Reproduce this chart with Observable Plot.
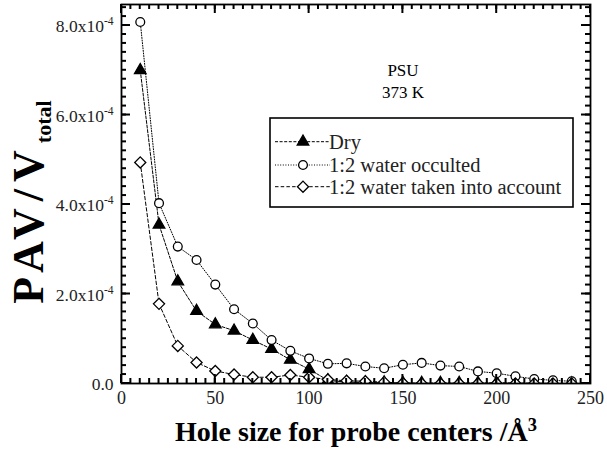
<!DOCTYPE html>
<html>
<head>
<meta charset="utf-8">
<script src="https://cdn.jsdelivr.net/npm/d3@7"></script>
<script src="https://cdn.jsdelivr.net/npm/@observablehq/plot@0.6"></script>
<style>
  html, body { margin: 0; padding: 0; background: #fff; }
  #chart { position: relative; width: 607px; height: 461px; }
  svg text { font-family: "Liberation Serif", "DejaVu Serif", serif; }
</style>
</head>
<body>
<div id="chart"></div>
<script>
// Pore accessible volume fraction versus hole size (PSU, 373 K)
const holeSize = [10, 20, 30, 40, 50, 60, 70, 80, 90, 100, 110, 120,
                  130, 140, 150, 160, 170, 180, 190, 200, 210, 220, 230, 240];

// values in units of 1e-4
const dry = [7.00, 3.55, 2.28, 1.62, 1.32, 1.18, 0.97, 0.77, 0.53, 0.32, 0.07, 0.03,
             0.02, 0.02, 0.01, 0.01, 0.01, 0.01, 0.01, 0.02, 0.01, 0.01, 0.00, 0.00];
const occulted = [8.08, 4.03, 3.06, 2.76, 2.21, 1.66, 1.34, 0.97, 0.73, 0.56, 0.44, 0.45,
                  0.38, 0.34, 0.42, 0.46, 0.40, 0.38, 0.27, 0.23, 0.16, 0.10, 0.07, 0.05];
const accounted = [4.94, 1.78, 0.84, 0.47, 0.28, 0.20, 0.14, 0.14, 0.19, 0.14, 0.09, 0.06,
                   0.05, 0.03, 0.01, 0.00, 0.00, 0.00, 0.00, 0.00, 0.00, 0.00, 0.00, 0.00];

const seriesNames = ["Dry", "1:2 water occulted", "1:2 water taken into account"];
const xTickValues = [0, 50, 100, 150, 200, 250];
const yTickValues = [0, 2e-4, 4e-4, 6e-4, 8e-4];
const yTickLabels = ["0.0", "2.0x10^{-4}", "4.0x10^{-4}", "6.0x10^{-4}", "8.0x10^{-4}"];
const xMinorTicks = d3.range(0, 251, 5);
const yMinorTicks = d3.range(0, 8.41e-4, 0.2e-4);

const xTitle = "Hole size for probe centers /Å^{3}";
const yTitle = "PAV/V_{total}";
const annotation = "PSU\n373 K";

const series = [
  {name: seriesNames[0], values: dry, symbol: "triangle", fill: "black", r: 4.3, dash: "3,1.6"},
  {name: seriesNames[1], values: occulted, symbol: "circle", fill: "white", r: 4.4, dash: "1,1.6"},
  {name: seriesNames[2], values: accounted, symbol: "diamond2", fill: "white", r: 5.0, dash: "3.5,2.2"}
];

const rows = series.flatMap(s => holeSize.map((h, i) => ({h, v: s.values[i] * 1e-4, s: s.name})));

const W = 607, H = 461;
const mL = 121, mR = 17, mT = 4, mB = 78;
const xMax = 250, yMax = 8.47e-4;
const font = "Liberation Serif";

const marks = [];
// data lines
for (const s of series) {
  marks.push(Plot.line(rows.filter(d => d.s === s.name), {
    x: "h", y: "v", stroke: "black", strokeWidth: 1, strokeDasharray: s.dash
  }));
}
// markers
for (const s of series) {
  marks.push(Plot.dot(rows.filter(d => d.s === s.name), {
    x: "h", y: "v", symbol: s.symbol, r: s.r, fill: s.fill,
    stroke: "black", strokeWidth: 1.3, clip: "frame"
  }));
}
marks.push(Plot.frame({stroke: "black", strokeWidth: 1.8}));
// tick labels
marks.push(
  Plot.text(xTickValues, {x: d => d, text: d => String(d), frameAnchor: "bottom",
    dy: 20, fontSize: 18, fontFamily: font, fill: "#222"}),
  Plot.text(yTickValues, {y: d => d, text: (d, i) => yTickLabels[i], frameAnchor: "left",
    textAnchor: "end", dx: -8, dy: 1, fontSize: 17.5, fontFamily: font, fill: "#222"})
);
// axis titles and annotation
marks.push(
  Plot.text([xTitle], {text: d => d, frameAnchor: "bottom", dy: 57, fontSize: 28,
    fontWeight: "bold", fontFamily: font}),
  Plot.text([yTitle], {text: d => d, frameAnchor: "left", textAnchor: "middle", rotate: -90,
    dx: -93, dy: 8, fontSize: 44, fontWeight: "bold", fontFamily: font}),
  Plot.text([annotation], {text: d => d, frameAnchor: "top", dx: 47, dy: 56, lineHeight: 1.3,
    fontSize: 17, fontFamily: font})
);

const plot = Plot.plot({
  width: W, height: H,
  marginLeft: mL, marginRight: mR, marginTop: mT, marginBottom: mB,
  x: {domain: [0, xMax], axis: null},
  y: {domain: [0, yMax], axis: null},
  style: {background: "white", overflow: "visible"},
  marks
});

const svg = d3.select(plot);

// inward ticks on all four sides, placed with the plot's own scales
const sx = plot.scale("x"), sy = plot.scale("y");
const [x0, x1] = sx.range, [y0, y1] = sy.range;   // y0 = bottom, y1 = top
const minorLen = 5, majorLen = 9;
const tg = svg.append("g").attr("stroke", "black").attr("stroke-width", 2);
for (const [ticks, len] of [[xMinorTicks, minorLen], [xTickValues, majorLen]]) {
  for (const v of ticks) {
    const px = sx.apply(v);
    tg.append("line").attr("x1", px).attr("x2", px).attr("y1", y0).attr("y2", y0 - len);
    tg.append("line").attr("x1", px).attr("x2", px).attr("y1", y1).attr("y2", y1 + len);
  }
}
for (const [ticks, len] of [[yMinorTicks, minorLen], [yTickValues, majorLen]]) {
  for (const v of ticks) {
    const py = sy.apply(v);
    tg.append("line").attr("y1", py).attr("y2", py).attr("x1", x0).attr("x2", x0 + len);
    tg.append("line").attr("y1", py).attr("y2", py).attr("x1", x1).attr("x2", x1 - len);
  }
}

// turn ^{..} and _{..} markup into super/subscript tspans
svg.selectAll("text").each(function () {
  const el = d3.select(this);
  const txt = this.textContent;
  if (!/[\^_]\{/.test(txt) || this.querySelector("tspan")) return;
  const spaced = txt === yTitle;
  el.text(null);
  if (spaced) el.attr("letter-spacing", 7);
  const re = /([\^_])\{([^}]*)\}/g;
  let last = 0, m;
  while ((m = re.exec(txt))) {
    if (m.index > last) el.append("tspan").text(txt.slice(last, m.index));
    const sup = m[1] === "^";
    el.append("tspan")
      .attr("font-size", sup ? "0.66em" : "0.5em")
      .attr("baseline-shift", sup ? "55%" : "-35%")
      .attr("letter-spacing", 0)
      .text(m[2]);
    last = re.lastIndex;
  }
  if (last < txt.length) el.append("tspan").text(txt.slice(last));
});

// legend box
const lg = svg.append("g").attr("transform", "translate(270,118)");
lg.append("rect").attr("width", 303).attr("height", 89)
  .attr("fill", "white").attr("stroke", "black").attr("stroke-width", 1.6);
const symbolTypes = {triangle: d3.symbolTriangle, circle: d3.symbolCircle, diamond2: d3.symbolDiamond2};
const rowY = [23.7, 47, 68.7];
series.forEach((s, i) => {
  const g = lg.append("g").attr("transform", `translate(0,${rowY[i]})`);
  g.append("line").attr("x1", 5).attr("x2", 60).attr("stroke", "black")
    .attr("stroke-width", 1).attr("stroke-dasharray", s.dash);
  g.append("path").attr("transform", "translate(33,0)")
    .attr("d", d3.symbol(symbolTypes[s.symbol], Math.PI * s.r * s.r)())
    .attr("fill", s.fill).attr("stroke", "black").attr("stroke-width", 1.3);
  g.append("text").attr("x", 59).attr("dy", "0.35em").attr("font-size", 20.5)
    .attr("text-anchor", "start").attr("font-family", font).attr("fill", "#222")
    .text(s.name);
});

document.getElementById("chart").appendChild(plot);
</script>
</body>
</html>
